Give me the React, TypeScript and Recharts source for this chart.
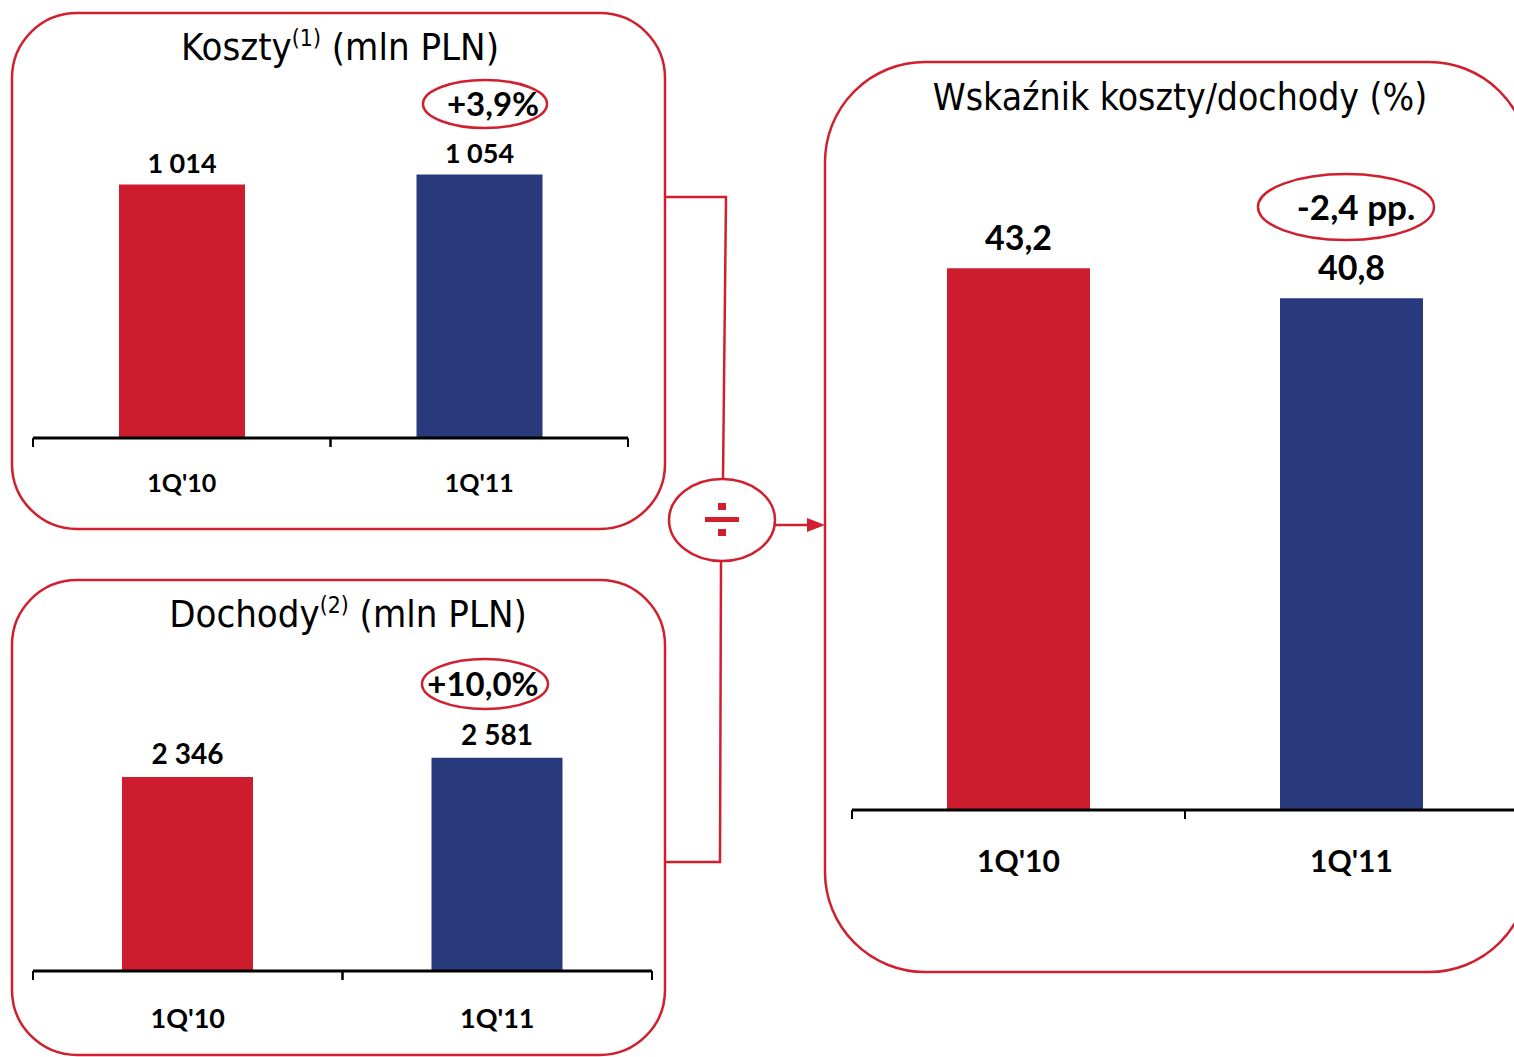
import React from 'react';
import { BarChart, Bar, XAxis, YAxis, LabelList, Cell } from 'recharts';

const categories = ["1Q'10", "1Q'11"];
const costValues = [1014, 1054];
const incomeValues = [2346, 2581];
const ratioValues = [43.2, 40.8];
const barColors = ['#CD1C2D', '#283A7B'];
const changeLabels = ['+3,9%', '+10,0%', '-2,4 pp.'];

const RED = '#D0202F';
const TITLE_FONT = "'Liberation Sans Narrow', 'DejaVu Sans Condensed', sans-serif";
const LABEL_FONT = "Lato, 'Liberation Sans', sans-serif";

const fmtInt = (v: number) => String(v).replace(/\B(?=(\d{3})+(?!\d))/g, ' ');
const fmtDec = (v: number) => v.toFixed(1).replace('.', ',');

interface PanelChartProps {
  values: number[];
  left: number;
  top: number;
  plotWidth: number;
  plotHeight: number;
  marginTop: number;
  axisHeight: number;
  max: number;
  barSize: number;
  labelSize: number;
  labelOffset: number;
  catSize: number;
  catOffset: number;
  format: (v: number) => string;
}

function PanelChart(p: PanelChartProps) {
  const data = categories.map((c, i) => ({ name: c, value: p.values[i] }));
  const band = p.plotWidth / categories.length;
  const side = 5;

  const renderTick = (props: any) => {
    const { x, y, payload } = props;
    return (
      <g>
        <line x1={x - band / 2} x2={x - band / 2} y1={y} y2={y + 9} stroke="#000" strokeWidth={2} />
        <line x1={x + band / 2} x2={x + band / 2} y1={y} y2={y + 9} stroke="#000" strokeWidth={2} />
        <text
          x={x}
          y={y + p.catOffset}
          textAnchor="middle"
          fontFamily={LABEL_FONT}
          fontWeight={700}
          fontSize={p.catSize}
          fill="#000"
        >
          {payload.value}
        </text>
      </g>
    );
  };

  return (
    <div style={{ position: 'absolute', left: p.left - side, top: p.top - p.marginTop }}>
      <BarChart
        width={p.plotWidth + side * 2}
        height={p.marginTop + p.plotHeight + p.axisHeight}
        data={data}
        margin={{ top: p.marginTop, right: side, bottom: 0, left: side }}
      >
        <XAxis
          dataKey="name"
          height={p.axisHeight}
          axisLine={{ stroke: '#000', strokeWidth: 3 }}
          tickLine={false}
          tickSize={0}
          tickMargin={0}
          interval={0}
          tick={renderTick}
        />
        <YAxis hide width={0} domain={[0, p.max]} />
        <Bar dataKey="value" barSize={p.barSize} isAnimationActive={false}>
          {data.map((d, i) => (
            <Cell key={d.name} fill={barColors[i]} />
          ))}
          <LabelList
            dataKey="value"
            position="top"
            offset={p.labelOffset}
            formatter={(v: any) => p.format(Number(v))}
            fill="#000"
            fontFamily={LABEL_FONT}
            fontWeight={700}
            fontSize={p.labelSize}
          />
        </Bar>
      </BarChart>
    </div>
  );
}

function Badge({ cx, cy, rx, ry, text, size, dx = 0 }: any) {
  return (
    <g>
      <ellipse cx={cx} cy={cy} rx={rx} ry={ry} fill="none" stroke={RED} strokeWidth={2.5} />
      <text
        x={cx + dx}
        y={cy + size * 0.36}
        textAnchor="middle"
        fontFamily={LABEL_FONT}
        fontWeight={700}
        fontSize={size}
        fill="#000"
      >
        {text}
      </text>
    </g>
  );
}

function Title({ x, y, main, sup, rest, size }: any) {
  return (
    <text x={x} y={y} textAnchor="middle" fontFamily={TITLE_FONT} fontSize={size} fill="#000">
      {main}
      {sup && (
        <tspan dy={-size * 0.38} fontSize={size * 0.6}>
          {sup}
        </tspan>
      )}
      {sup && <tspan dy={size * 0.38}>{rest}</tspan>}
      {!sup && rest}
    </text>
  );
}

export default function App() {
  return (
    <div
      style={{
        position: 'absolute',
        left: 0,
        top: 0,
        width: 1514,
        height: 1057,
        overflow: 'hidden',
        background: '#fff',
      }}
    >
      <svg width={1514} height={1057} style={{ position: 'absolute', left: 0, top: 0 }}>
        <rect x={12} y={13} width={653} height={516} rx={65} fill="none" stroke={RED} strokeWidth={2.5} />
        <rect x={12} y={580} width={653} height={475} rx={65} fill="none" stroke={RED} strokeWidth={2.5} />
        <rect x={825} y={62} width={704} height={910} rx={100} fill="none" stroke={RED} strokeWidth={2.5} />

        <polyline points="665,197 726,197 723,479" fill="none" stroke={RED} strokeWidth={2.5} />
        <polyline points="665,862 720,862 721,562" fill="none" stroke={RED} strokeWidth={2.5} />
        <ellipse cx={722} cy={520} rx={53} ry={41} fill="none" stroke={RED} strokeWidth={2.5} />
        <rect x={705} y={517} width={34} height={5} fill={RED} />
        <rect x={718} y={503} width={8} height={7} fill={RED} />
        <rect x={718} y={529} width={8} height={7} fill={RED} />
        <line x1={775} y1={525} x2={810} y2={525} stroke={RED} strokeWidth={2.5} />
        <polygon points="807,518 825,525 807,532" fill={RED} />

        <Title x={340} y={60} main="Koszty" sup="(1)" rest=" (mln PLN)" size={38} />
        <Title x={348} y={627} main="Dochody" sup="(2)" rest=" (mln PLN)" size={38} />
        <Title x={1180} y={110} main="Wskaźnik koszty/dochody (%)" size={37} />

        <Badge cx={485} cy={104} rx={62} ry={24} text={changeLabels[0]} size={33} dx={8} />
        <Badge cx={485} cy={684} rx={63} ry={25} text={changeLabels[1]} size={33} dx={-2} />
        <Badge cx={1346} cy={207} rx={88} ry={33} text={changeLabels[2]} size={35} dx={10} />
      </svg>

      <PanelChart
        values={costValues}
        left={33}
        top={138}
        plotWidth={595}
        plotHeight={300}
        marginTop={40}
        axisHeight={62}
        max={1200}
        barSize={126}
        labelSize={27}
        labelOffset={12}
        catSize={25}
        catOffset={54}
        format={fmtInt}
      />
      <PanelChart
        values={incomeValues}
        left={33}
        top={723}
        plotWidth={619}
        plotHeight={248}
        marginTop={40}
        axisHeight={70}
        max={3000}
        barSize={131}
        labelSize={28}
        labelOffset={13}
        catSize={27}
        catOffset={57}
        format={fmtInt}
      />
      <PanelChart
        values={ratioValues}
        left={852}
        top={183}
        plotWidth={666}
        plotHeight={627}
        marginTop={40}
        axisHeight={90}
        max={50}
        barSize={143}
        labelSize={34}
        labelOffset={18}
        catSize={30}
        catOffset={62}
        format={fmtDec}
      />
    </div>
  );
}
